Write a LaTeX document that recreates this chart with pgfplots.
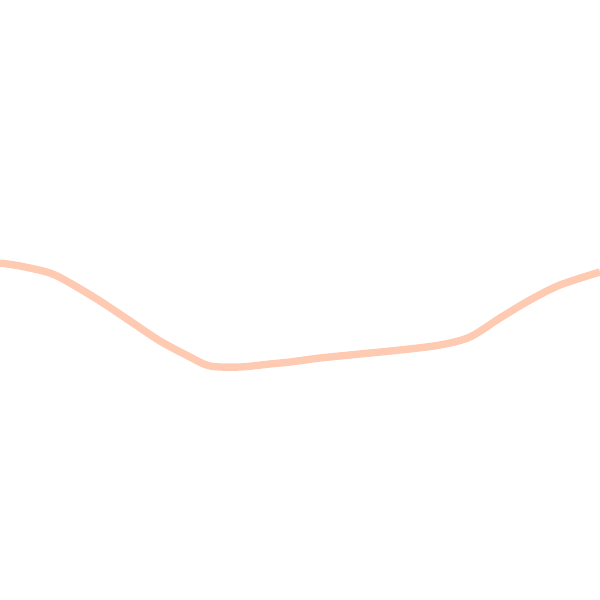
\documentclass[border=0pt]{standalone}
\usepackage{pgfplots}
\pgfplotsset{compat=1.18}
\definecolor{peach}{RGB}{255,202,178}
\begin{document}
\begin{tikzpicture}
\begin{axis}[
    hide axis,
    scale only axis,
    width=8cm, height=8cm,
    xmin=0, xmax=600,
    ymin=0, ymax=600,
    y dir=reverse,
    clip=true,
]
%% curve traced in pixel coordinates (y from top)
\addplot[peach, line width=2.8pt, smooth] coordinates {
    (0,263) (20,266) (50,273) (70,283) (100,301) (130,321)
    (160,341) (190,357) (210,366) (240,367) (270,364) (290,362)
    (320,358) (360,354) (400,350) (440,345) (470,337) (500,318)
    (530,300) (560,285) (600,272)
};
\end{axis}
\pgfresetboundingbox
\path[use as bounding box] (current axis.south west) rectangle (current axis.north east);
\end{tikzpicture}
\end{document}
